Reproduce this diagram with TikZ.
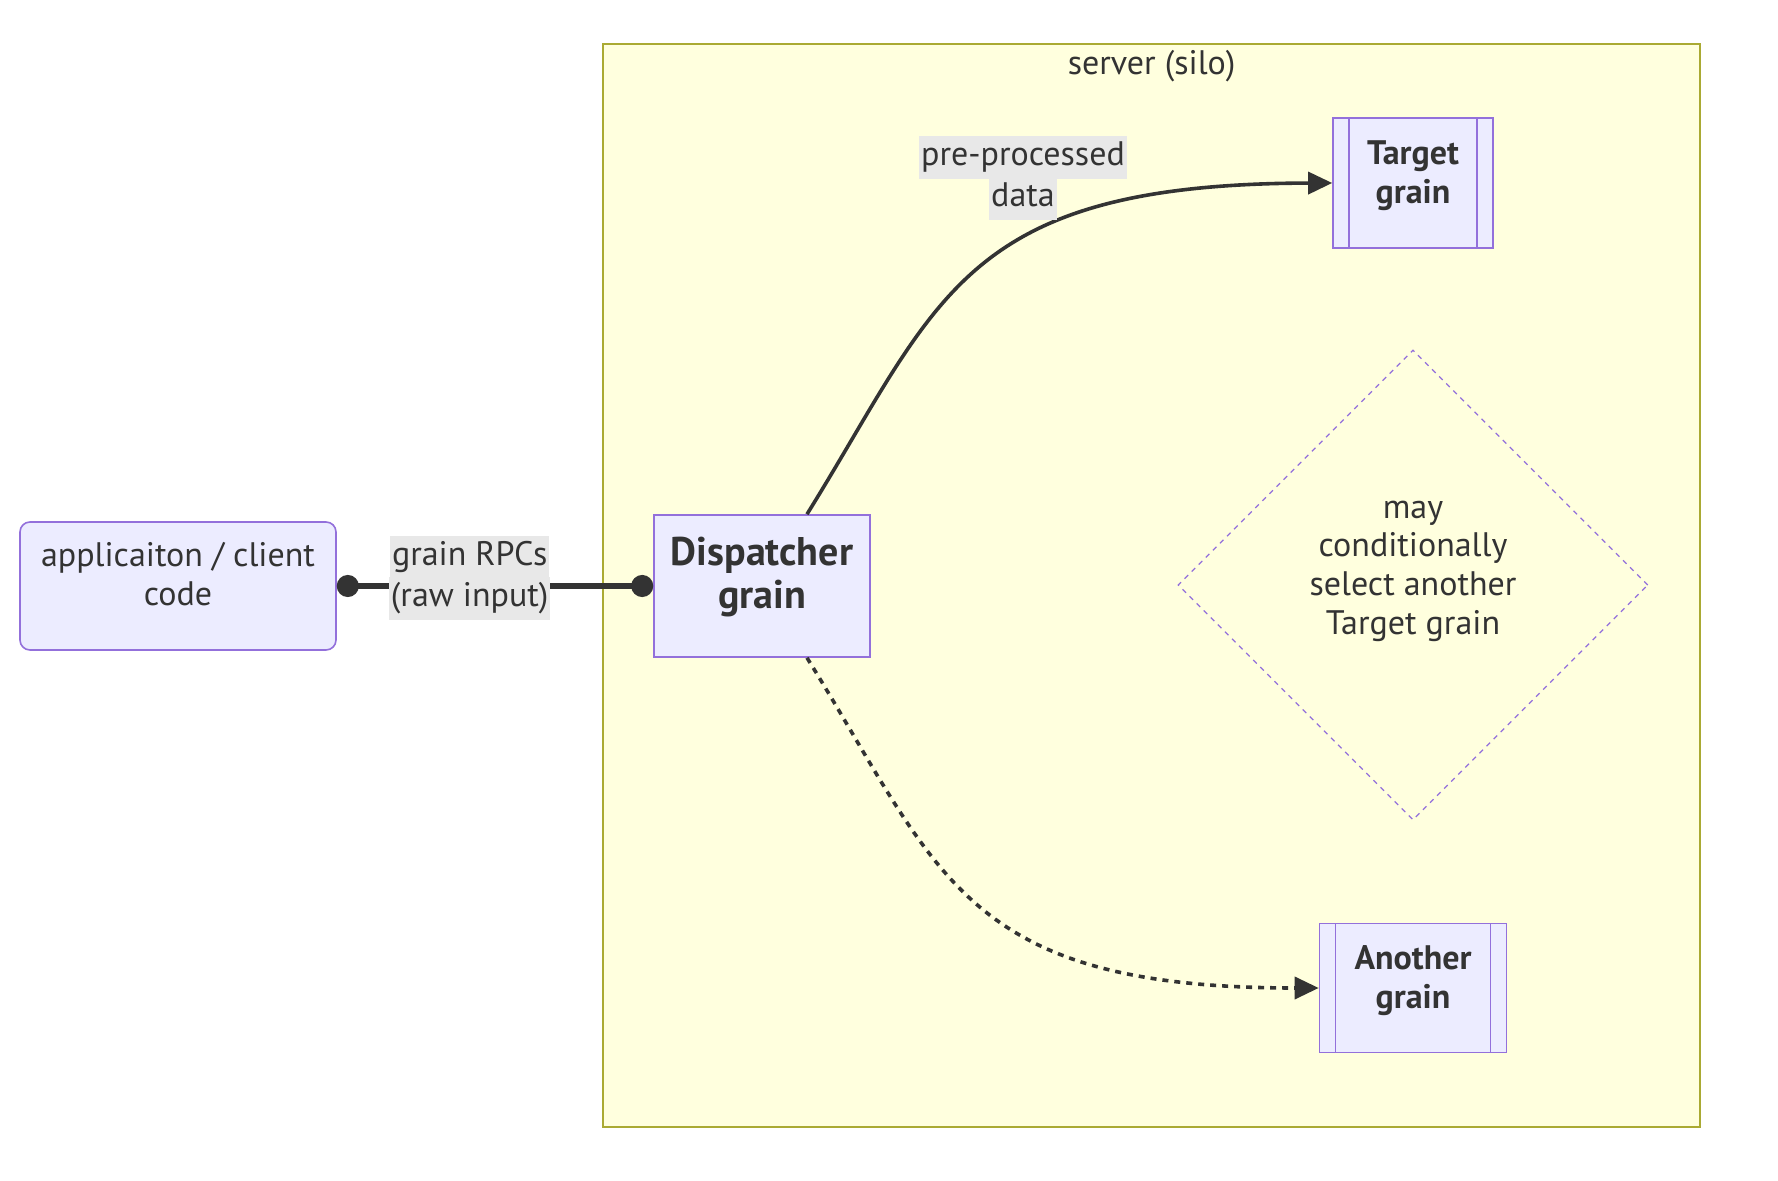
\documentclass[tikz,border=0pt]{standalone}
\usepackage{fontspec}
\setmainfont{PT Sans}
\usepackage{tikz}
\usetikzlibrary{arrows.meta, shapes.geometric}

\definecolor{nodefill}{HTML}{ECECFF}
\definecolor{nodeline}{HTML}{9370DB}
\definecolor{inktext}{HTML}{333333}
\definecolor{silofill}{HTML}{FFFFDE}
\definecolor{siloline}{HTML}{AAAA33}
\definecolor{labelbg}{HTML}{E8E8E8}

\newcommand{\lblline}[1]{\colorbox{labelbg}{\strut #1}}

\tikzset{
  box/.style={draw=nodeline, fill=nodefill, line width=0.8pt, text=inktext,
    align=center, font=\fontsize{17}{19.3}\selectfont},
  client/.style={box, rounded corners=5pt, minimum width=158pt, minimum height=64pt, text depth=12pt},
  dispatch/.style={box, font=\fontsize{20}{21.5}\selectfont\bfseries, minimum width=108pt, minimum height=71pt, text depth=13pt},
  subgrain/.style={box, font=\fontsize{17}{19.3}\selectfont\bfseries, text depth=11pt,
    path picture={
      \draw[nodeline, line width=0.8pt] ([xshift=8pt]path picture bounding box.north west) -- ([xshift=8pt]path picture bounding box.south west);
      \draw[nodeline, line width=0.8pt] ([xshift=-8pt]path picture bounding box.north east) -- ([xshift=-8pt]path picture bounding box.south east);}},
  cond/.style={diamond, draw=nodeline, line width=0.6pt, dash pattern=on 2.5pt off 2.5pt,
    text=inktext, align=center, font=\fontsize{17}{19.3}\selectfont,
    minimum width=235pt, minimum height=235pt, inner sep=0pt},
  lbl/.style={text=inktext, align=center, inner sep=0pt, font=\fontsize{17}{19.3}\selectfont},
  link/.style={draw=inktext, line width=1.8pt},
}
\setlength{\fboxsep}{1pt}

\begin{document}
\begin{tikzpicture}[x=0.5pt, y=-0.5pt]
  \useasboundingbox (0,0) rectangle (1778,1181);

  % server (silo) cluster
  \node[draw=siloline, fill=silofill, line width=0.8pt, minimum width=548.5pt, minimum height=541.5pt, inner sep=0pt]
    (silo) at (1151.5,585.5) {};
  \node[lbl] (silotitle) at (1151.5,66) {server (silo)};

  % nodes
  \node[client] (app) at (178,586) {applicaiton / client\\code};
  \node[dispatch] (disp) at (762,586) {Dispatcher\\grain};
  \node[subgrain, minimum width=80pt, minimum height=65pt] (target) at (1413,183) {Target\\grain};
  \node[subgrain, minimum width=93.5pt, minimum height=64.5pt] (another) at (1413,988) {Another\\grain};
  \node[cond, text depth=17.5pt] (maybe) at (1413,585) {may\\conditionally\\select another\\Target grain};

  % grain RPCs
  \draw[link, line width=3pt, {Circle[length=11pt]}-{Circle[length=11pt]}] (app.east) -- (disp.west)
    node[lbl, pos=0.42, yshift=4pt] (rpc) {\lblline{grain RPCs}\\[-2pt]\lblline{(raw input)}};

  % pre-processed data
  \coordinate (dtop) at ([xshift=22.5pt]disp.north);
  \coordinate (dbot) at ([xshift=22.5pt]disp.south);
  \draw[link, -{Triangle[length=12pt, width=11pt]}] (dtop) .. controls (940,300) and (960,184) .. (target.west);
  \node[lbl] (ppd) at (1023,178) {\lblline{pre-processed}\\[-2pt]\lblline{data}};

  % another grain
  \draw[link, dash pattern=on 3pt off 3pt, -{Triangle[length=12pt, width=11pt]}] (dbot) .. controls (940,872) and (960,988) .. (another.west);
\end{tikzpicture}
\end{document}
